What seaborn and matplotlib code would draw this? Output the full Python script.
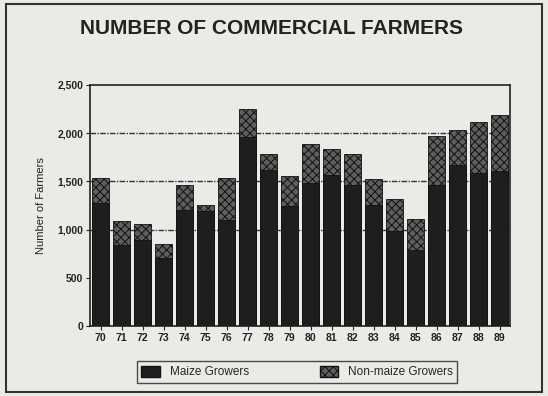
import matplotlib
matplotlib.use("Agg")
import matplotlib.pyplot as plt
import seaborn as sns
import pandas as pd
from matplotlib.patches import Rectangle, Patch

years = ["70", "71", "72", "73", "74", "75", "76", "77", "78", "79",
         "80", "81", "82", "83", "84", "85", "86", "87", "88", "89"]
maize = [1275, 845, 895, 705, 1205, 1190, 1100, 1965, 1620, 1240,
         1485, 1570, 1465, 1260, 990, 785, 1465, 1670, 1585, 1610]
non_maize = [260, 240, 165, 145, 260, 70, 435, 285, 165, 320,
             405, 265, 320, 265, 325, 320, 505, 360, 530, 580]
yticks = [0, 500, 1000, 1500, 2000, 2500]
ytick_labels = ["0", "500", "1,000", "1,500", "2,000", "2,500"]

df = pd.DataFrame({"year": years, "maize": maize, "non_maize": non_maize})
df["total"] = df["maize"] + df["non_maize"]

sns.set_style("white")
plt.rcParams["font.family"] = ["Liberation Sans", "DejaVu Sans"]
plt.rcParams["hatch.color"] = "#e2e2e2"
plt.rcParams["hatch.linewidth"] = 0.7

bg = "#ebeae7"
fig = plt.figure(figsize=(5.48, 3.96), dpi=100, facecolor=bg)
ax = fig.add_axes([90 / 548, 1 - 326 / 396, 420 / 548, 241 / 396])
ax.set_facecolor(bg)

for y in [1000, 1500, 2000]:
    ax.axhline(y, color="#333333", lw=1.0, ls=(0, (4, 1, 1, 1)), zorder=0)

sns.barplot(data=df, x="year", y="total", color="#5e5e5e", width=0.8,
            edgecolor="#111111", linewidth=0.6, hatch="xxxx",
            saturation=1, ax=ax, zorder=2)
sns.barplot(data=df, x="year", y="maize", color="#1e1e1e", width=0.8,
            edgecolor="#111111", linewidth=0.6, saturation=1, ax=ax, zorder=3)

ax.set_ylim(0, 2500)
ax.set_xlim(-0.5, len(years) - 0.5)
ax.set_yticks(yticks)
ax.set_yticklabels(ytick_labels, fontsize=7.5, fontweight="bold", color="#222222")
ax.set_xticks(range(len(years)))
ax.set_xticklabels(years, fontsize=7.5, fontweight="bold", color="#222222")
ax.tick_params(axis="y", length=3, width=0.8, color="#222222", pad=2, left=True)
ax.tick_params(axis="x", length=3, width=0.8, color="#222222", pad=2, bottom=True)
ax.set_xlabel("")
ax.set_ylabel("Number of Farmers", fontsize=8, color="#222222", labelpad=8)
for s in ax.spines.values():
    s.set_visible(True)
    s.set_color("#222222")
    s.set_linewidth(1.2)

fig.text(271 / 548, 1 - 28 / 396, "NUMBER OF COMMERCIAL FARMERS", ha="center",
         va="center", fontsize=15, fontweight="bold", color="#222222")

handles = [Patch(facecolor="#1e1e1e", edgecolor="#111111", label="Maize Growers"),
           Patch(facecolor="#5e5e5e", edgecolor="#111111", hatch="xxxx",
                 label="Non-maize Growers")]
leg = fig.legend(handles=handles, loc="center", bbox_to_anchor=(297 / 548, 1 - 372 / 396),
                 ncol=2, fontsize=8.5, frameon=True, fancybox=False, edgecolor="#222222",
                 facecolor=bg, handlelength=1.6, handleheight=1.1, columnspacing=6,
                 borderpad=0.4, borderaxespad=0)
leg.get_frame().set_linewidth(1.0)

fig.patches.append(Rectangle((6 / 548, 4 / 396), 536 / 548, 388 / 396,
                             transform=fig.transFigure, fill=False,
                             edgecolor="#333333", lw=1.5))

fig.savefig("out.png", dpi=100, facecolor=bg)
